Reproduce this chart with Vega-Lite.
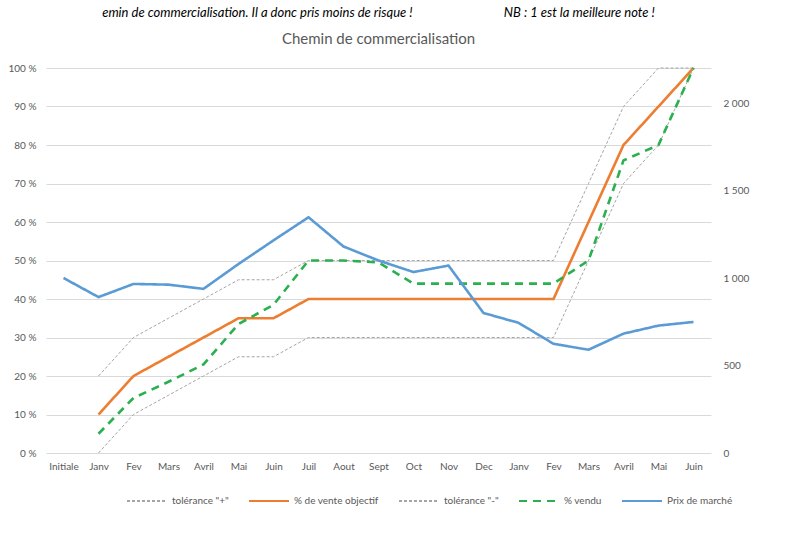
{
  "$schema": "https://vega.github.io/schema/vega-lite/v6.json",
  "width": 665,
  "height": 385,
  "background": "white",
  "padding": {"left": 8, "right": 8, "top": 6, "bottom": 4},
  "title": {
    "text": "emin de commercialisation. Il  a donc pris  moins de risque  !\u00a0\u00a0\u00a0\u00a0\u00a0\u00a0\u00a0\u00a0\u00a0\u00a0\u00a0\u00a0\u00a0\u00a0\u00a0\u00a0\u00a0\u00a0\u00a0\u00a0\u00a0\u00a0\u00a0\u00a0\u00a0\u00a0\u00a0\u00a0\u00a0\u00a0NB : 1 est la meilleure note !",
    "subtitle": "Chemin de commercialisation",
    "anchor": "middle",
    "font": "Lato",
    "fontSize": 13,
    "fontStyle": "italic",
    "fontWeight": "normal",
    "color": "#000000",
    "subtitleFont": "Lato",
    "subtitleFontSize": 15,
    "subtitleColor": "#595959",
    "subtitlePadding": 12,
    "offset": 16
  },
  "datasets": {
    "pct": [
      {"mois": "Janv", "idx": 1, "serie": "tolérance \"+\"", "valeur": 20},
      {"mois": "Fev", "idx": 2, "serie": "tolérance \"+\"", "valeur": 30},
      {"mois": "Mars", "idx": 3, "serie": "tolérance \"+\"", "valeur": 35},
      {"mois": "Avril", "idx": 4, "serie": "tolérance \"+\"", "valeur": 40},
      {"mois": "Mai", "idx": 5, "serie": "tolérance \"+\"", "valeur": 45},
      {"mois": "Juin", "idx": 6, "serie": "tolérance \"+\"", "valeur": 45},
      {"mois": "Juil", "idx": 7, "serie": "tolérance \"+\"", "valeur": 50},
      {"mois": "Aout", "idx": 8, "serie": "tolérance \"+\"", "valeur": 50},
      {"mois": "Sept", "idx": 9, "serie": "tolérance \"+\"", "valeur": 50},
      {"mois": "Oct", "idx": 10, "serie": "tolérance \"+\"", "valeur": 50},
      {"mois": "Nov", "idx": 11, "serie": "tolérance \"+\"", "valeur": 50},
      {"mois": "Dec", "idx": 12, "serie": "tolérance \"+\"", "valeur": 50},
      {"mois": "Janv", "idx": 13, "serie": "tolérance \"+\"", "valeur": 50},
      {"mois": "Fev", "idx": 14, "serie": "tolérance \"+\"", "valeur": 50},
      {"mois": "Mars", "idx": 15, "serie": "tolérance \"+\"", "valeur": 70},
      {"mois": "Avril", "idx": 16, "serie": "tolérance \"+\"", "valeur": 90},
      {"mois": "Mai", "idx": 17, "serie": "tolérance \"+\"", "valeur": 100},
      {"mois": "Juin", "idx": 18, "serie": "tolérance \"+\"", "valeur": 100},

      {"mois": "Janv", "idx": 1, "serie": "% de vente objectif", "valeur": 10},
      {"mois": "Fev", "idx": 2, "serie": "% de vente objectif", "valeur": 20},
      {"mois": "Mars", "idx": 3, "serie": "% de vente objectif", "valeur": 25},
      {"mois": "Avril", "idx": 4, "serie": "% de vente objectif", "valeur": 30},
      {"mois": "Mai", "idx": 5, "serie": "% de vente objectif", "valeur": 35},
      {"mois": "Juin", "idx": 6, "serie": "% de vente objectif", "valeur": 35},
      {"mois": "Juil", "idx": 7, "serie": "% de vente objectif", "valeur": 40},
      {"mois": "Aout", "idx": 8, "serie": "% de vente objectif", "valeur": 40},
      {"mois": "Sept", "idx": 9, "serie": "% de vente objectif", "valeur": 40},
      {"mois": "Oct", "idx": 10, "serie": "% de vente objectif", "valeur": 40},
      {"mois": "Nov", "idx": 11, "serie": "% de vente objectif", "valeur": 40},
      {"mois": "Dec", "idx": 12, "serie": "% de vente objectif", "valeur": 40},
      {"mois": "Janv", "idx": 13, "serie": "% de vente objectif", "valeur": 40},
      {"mois": "Fev", "idx": 14, "serie": "% de vente objectif", "valeur": 40},
      {"mois": "Mars", "idx": 15, "serie": "% de vente objectif", "valeur": 60},
      {"mois": "Avril", "idx": 16, "serie": "% de vente objectif", "valeur": 80},
      {"mois": "Mai", "idx": 17, "serie": "% de vente objectif", "valeur": 90},
      {"mois": "Juin", "idx": 18, "serie": "% de vente objectif", "valeur": 100},

      {"mois": "Janv", "idx": 1, "serie": "tolérance \"-\"", "valeur": 0},
      {"mois": "Fev", "idx": 2, "serie": "tolérance \"-\"", "valeur": 10},
      {"mois": "Mars", "idx": 3, "serie": "tolérance \"-\"", "valeur": 15},
      {"mois": "Avril", "idx": 4, "serie": "tolérance \"-\"", "valeur": 20},
      {"mois": "Mai", "idx": 5, "serie": "tolérance \"-\"", "valeur": 25},
      {"mois": "Juin", "idx": 6, "serie": "tolérance \"-\"", "valeur": 25},
      {"mois": "Juil", "idx": 7, "serie": "tolérance \"-\"", "valeur": 30},
      {"mois": "Aout", "idx": 8, "serie": "tolérance \"-\"", "valeur": 30},
      {"mois": "Sept", "idx": 9, "serie": "tolérance \"-\"", "valeur": 30},
      {"mois": "Oct", "idx": 10, "serie": "tolérance \"-\"", "valeur": 30},
      {"mois": "Nov", "idx": 11, "serie": "tolérance \"-\"", "valeur": 30},
      {"mois": "Dec", "idx": 12, "serie": "tolérance \"-\"", "valeur": 30},
      {"mois": "Janv", "idx": 13, "serie": "tolérance \"-\"", "valeur": 30},
      {"mois": "Fev", "idx": 14, "serie": "tolérance \"-\"", "valeur": 30},
      {"mois": "Mars", "idx": 15, "serie": "tolérance \"-\"", "valeur": 50},
      {"mois": "Avril", "idx": 16, "serie": "tolérance \"-\"", "valeur": 70},
      {"mois": "Mai", "idx": 17, "serie": "tolérance \"-\"", "valeur": 80},
      {"mois": "Juin", "idx": 18, "serie": "tolérance \"-\"", "valeur": 100},

      {"mois": "Janv", "idx": 1, "serie": "% vendu", "valeur": 5},
      {"mois": "Fev", "idx": 2, "serie": "% vendu", "valeur": 14.3},
      {"mois": "Mars", "idx": 3, "serie": "% vendu", "valeur": 18.5},
      {"mois": "Avril", "idx": 4, "serie": "% vendu", "valeur": 23},
      {"mois": "Mai", "idx": 5, "serie": "% vendu", "valeur": 33.5},
      {"mois": "Juin", "idx": 6, "serie": "% vendu", "valeur": 38.5},
      {"mois": "Juil", "idx": 7, "serie": "% vendu", "valeur": 50},
      {"mois": "Aout", "idx": 8, "serie": "% vendu", "valeur": 50},
      {"mois": "Sept", "idx": 9, "serie": "% vendu", "valeur": 49.5},
      {"mois": "Oct", "idx": 10, "serie": "% vendu", "valeur": 44},
      {"mois": "Nov", "idx": 11, "serie": "% vendu", "valeur": 44},
      {"mois": "Dec", "idx": 12, "serie": "% vendu", "valeur": 44},
      {"mois": "Janv", "idx": 13, "serie": "% vendu", "valeur": 44},
      {"mois": "Fev", "idx": 14, "serie": "% vendu", "valeur": 44},
      {"mois": "Mars", "idx": 15, "serie": "% vendu", "valeur": 50},
      {"mois": "Avril", "idx": 16, "serie": "% vendu", "valeur": 76},
      {"mois": "Mai", "idx": 17, "serie": "% vendu", "valeur": 80},
      {"mois": "Juin", "idx": 18, "serie": "% vendu", "valeur": 100}
    ],
    "prix": [
      {"mois": "Initiale", "idx": 0, "serie": "Prix de marché", "prix": 1000},
      {"mois": "Janv", "idx": 1, "serie": "Prix de marché", "prix": 891},
      {"mois": "Fev", "idx": 2, "serie": "Prix de marché", "prix": 966},
      {"mois": "Mars", "idx": 3, "serie": "Prix de marché", "prix": 962},
      {"mois": "Avril", "idx": 4, "serie": "Prix de marché", "prix": 938},
      {"mois": "Mai", "idx": 5, "serie": "Prix de marché", "prix": 1080},
      {"mois": "Juin", "idx": 6, "serie": "Prix de marché", "prix": 1215},
      {"mois": "Juil", "idx": 7, "serie": "Prix de marché", "prix": 1347},
      {"mois": "Aout", "idx": 8, "serie": "Prix de marché", "prix": 1180},
      {"mois": "Sept", "idx": 9, "serie": "Prix de marché", "prix": 1100},
      {"mois": "Oct", "idx": 10, "serie": "Prix de marché", "prix": 1034},
      {"mois": "Nov", "idx": 11, "serie": "Prix de marché", "prix": 1071},
      {"mois": "Dec", "idx": 12, "serie": "Prix de marché", "prix": 800},
      {"mois": "Janv", "idx": 13, "serie": "Prix de marché", "prix": 744},
      {"mois": "Fev", "idx": 14, "serie": "Prix de marché", "prix": 624},
      {"mois": "Mars", "idx": 15, "serie": "Prix de marché", "prix": 590},
      {"mois": "Avril", "idx": 16, "serie": "Prix de marché", "prix": 682},
      {"mois": "Mai", "idx": 17, "serie": "Prix de marché", "prix": 728},
      {"mois": "Juin", "idx": 18, "serie": "Prix de marché", "prix": 749}
    ]
  },
  "layer": [
    {
      "data": {"name": "pct"},
      "mark": {"type": "line", "strokeCap": "butt"},
      "encoding": {
        "x": {
          "field": "idx",
          "type": "ordinal",
          "axis": {
            "title": null,
            "labelAngle": 0,
            "ticks": false,
            "domain": false,
            "labelPadding": 8,
            "labelExpr": "['Initiale','Janv','Fev','Mars','Avril','Mai','Juin','Juil','Aout','Sept','Oct','Nov','Dec','Janv','Fev','Mars','Avril','Mai','Juin'][datum.value]"
          }
        },
        "y": {
          "field": "valeur",
          "type": "quantitative",
          "scale": {"domain": [0, 100]},
          "axis": {
            "title": null,
            "values": [0, 10, 20, 30, 40, 50, 60, 70, 80, 90, 100],
            "labelExpr": "datum.value + ' %'",
            "grid": true,
            "domain": false,
            "ticks": false,
            "labelPadding": 10
          }
        },
        "color": {
          "field": "serie",
          "type": "nominal",
          "scale": {
            "domain": ["tolérance \"+\"", "% de vente objectif", "tolérance \"-\"", "% vendu", "Prix de marché"],
            "range": ["#A5A5A5", "#ED7D31", "#A5A5A5", "#2BB04F", "#5B9BD5"]
          },
          "legend": {"title": null, "orient": "none", "legendX": 80, "legendY": 412, "direction": "horizontal"}
        },
        "strokeDash": {
          "field": "serie",
          "type": "nominal",
          "scale": {
            "domain": ["tolérance \"+\"", "% de vente objectif", "tolérance \"-\"", "% vendu", "Prix de marché"],
            "range": [[3, 2], [1, 0], [3, 2], [8, 6], [1, 0]]
          },
          "legend": {"title": null, "orient": "none", "legendX": 80, "legendY": 412, "direction": "horizontal"}
        },
        "strokeWidth": {
          "condition": {"test": "indexof(datum.serie, 'tolérance') >= 0", "value": 1},
          "value": 2.6
        }
      }
    },
    {
      "data": {"name": "prix"},
      "mark": {"type": "line", "strokeWidth": 2.6},
      "encoding": {
        "x": {"field": "idx", "type": "ordinal"},
        "y": {
          "field": "prix",
          "type": "quantitative",
          "scale": {"domain": [0, 2200]},
          "axis": {
            "title": null,
            "orient": "right",
            "values": [0, 500, 1000, 1500, 2000],
            "labelExpr": "replace(format(datum.value, ','), ',', ' ')",
            "grid": false,
            "domain": false,
            "ticks": false,
            "labelPadding": 12
          }
        },
        "color": {"field": "serie", "type": "nominal"},
        "strokeDash": {"field": "serie", "type": "nominal"}
      }
    }
  ],
  "resolve": {"scale": {"y": "independent"}},
  "config": {
    "font": "Lato",
    "view": {"stroke": null},
    "axis": {
      "labelFont": "Lato",
      "labelFontSize": 10,
      "labelColor": "#595959",
      "gridColor": "#D9D9D9",
      "gridWidth": 1
    },
    "legend": {
      "labelFont": "Lato",
      "labelFontSize": 10,
      "labelColor": "#595959",
      "symbolType": "stroke",
      "symbolSize": 1600,
      "symbolStrokeWidth": 2,
      "columnPadding": 16,
      "padding": 0
    }
  }
}
